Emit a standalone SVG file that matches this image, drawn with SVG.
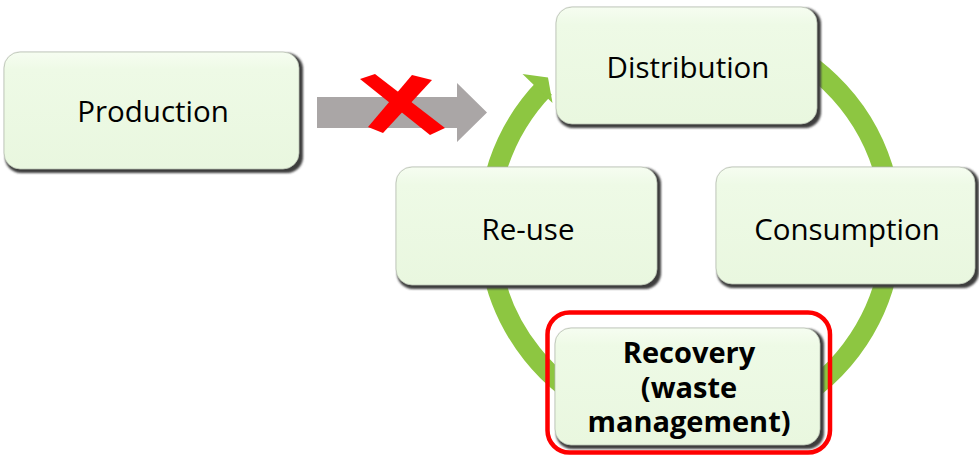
<svg xmlns="http://www.w3.org/2000/svg" width="979" height="462" viewBox="0 0 979 462">
  <defs>
    <linearGradient id="boxFill" x1="0" y1="0" x2="0" y2="1">
      <stop offset="0" stop-color="#f6fdf1"/>
      <stop offset="0.15" stop-color="#eefae6"/>
      <stop offset="1" stop-color="#e9f7df"/>
    </linearGradient>
    <filter id="soft" x="-5%" y="-5%" width="110%" height="115%">
      <feGaussianBlur stdDeviation="1.2"/>
    </filter>
  </defs>
  <style>
    .shade { fill: #3c3c3c; filter: url(#soft); }
    .box { fill: url(#boxFill); stroke: #b9c2b2; stroke-width: 0.8; }
    .label { font-family: "Open Sans", "Liberation Sans", sans-serif; font-size: 29.5px; fill: #000; text-anchor: middle; }
    .bold { font-weight: bold; font-size: 29px; }
  </style>

  <!-- connectors -->
  <g id="connectors">
    <!-- green cycle ring with its single arrowhead -->
    <path d="M 654.9 29.1 A 202 202 0 1 1 544.7 87.7" fill="none" stroke="#8dc641" stroke-width="20"/>
    <polygon points="522.5,74 548,77.5 552.5,103" fill="#8dc641"/>
    <!-- blocked linear flow -->
    <polygon points="317,97 457,97 457,83 487,112.5 457,142 457,128 317,128" fill="#aaa6a6"/>
    <polygon points="360,79 375,74 445,128 430,135" fill="#ff0000"/>
    <polygon points="412,75 432,80 383,133 368,127" fill="#ff0000"/>
  </g>

  <g id="production">
    <rect class="shade" x="5" y="53" width="298" height="120" rx="16"/>
    <rect class="box" x="4" y="52" width="295" height="117" rx="16"/>
    <text class="label" x="153" y="122">Production</text>
  </g>

  <g id="distribution">
    <rect class="shade" x="557" y="8" width="264" height="120" rx="16"/>
    <rect class="box" x="556" y="7" width="261" height="117" rx="16"/>
    <text class="label" x="688" y="78">Distribution</text>
  </g>

  <g id="reuse">
    <rect class="shade" x="397" y="168" width="264" height="121" rx="16"/>
    <rect class="box" x="396" y="167" width="261" height="118" rx="16"/>
    <text class="label" x="528" y="240">Re-use</text>
  </g>

  <g id="consumption">
    <rect class="shade" x="717" y="168" width="262" height="120" rx="16"/>
    <rect class="box" x="716" y="167" width="259" height="117" rx="16"/>
    <text class="label" x="847" y="240">Consumption</text>
  </g>

  <g id="recovery">
    <rect class="shade" x="556" y="329" width="268" height="120" rx="16"/>
    <rect class="box" x="555" y="328" width="265" height="117" rx="16"/>
    <text class="label bold" x="689" y="363">Recovery</text>
    <text class="label bold" x="689" y="397.5">(waste</text>
    <text class="label bold" x="689" y="432">management)</text>
    <rect x="547.5" y="312.5" width="282.5" height="140" rx="22" fill="none" stroke="#ff0000" stroke-width="4.5"/>
  </g>
</svg>
